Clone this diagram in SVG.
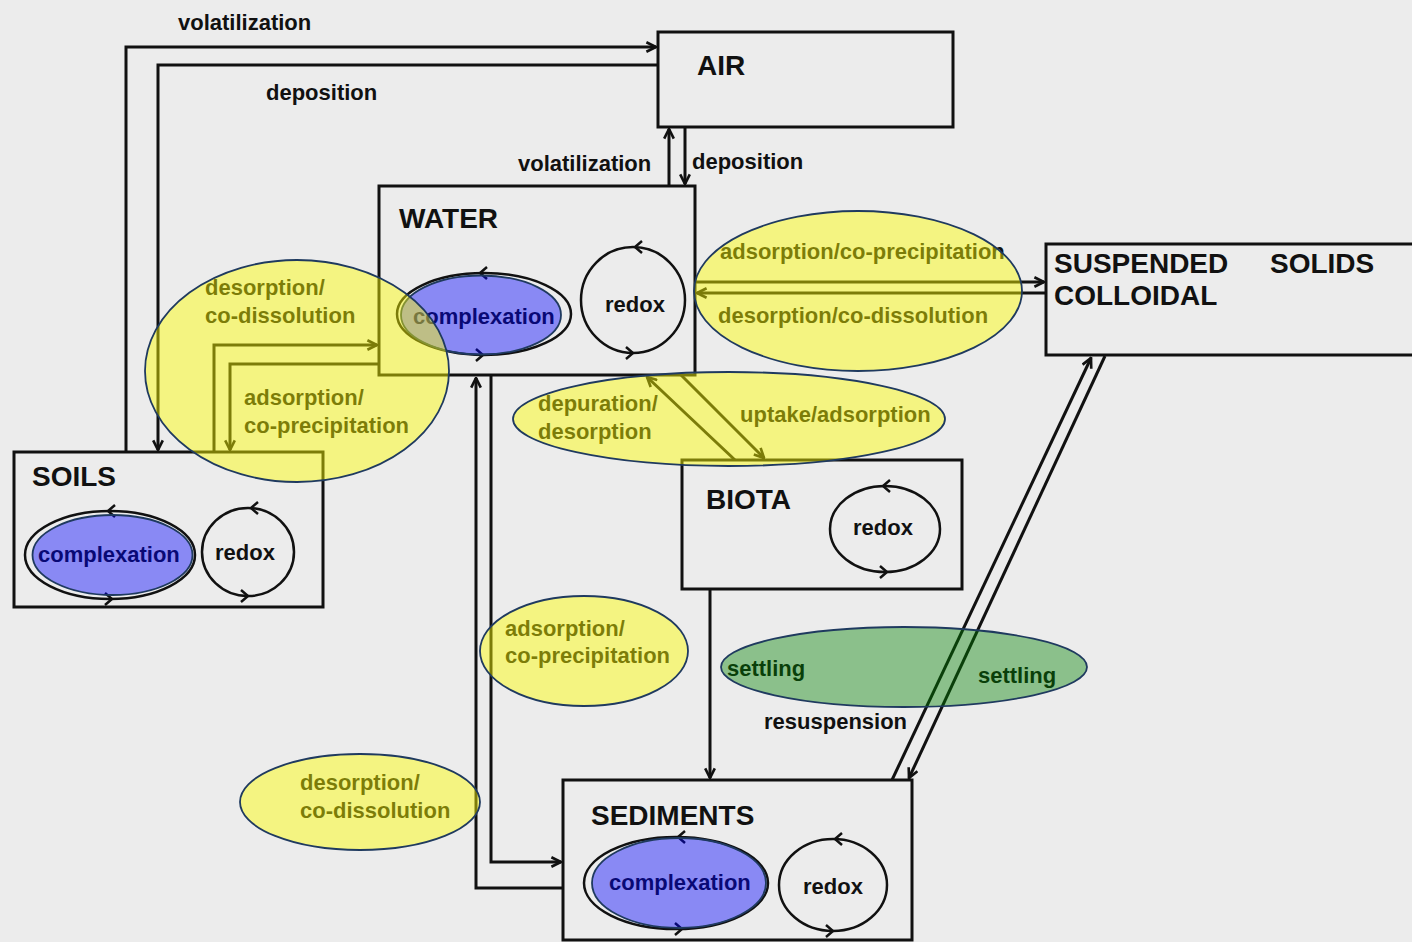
<svg xmlns="http://www.w3.org/2000/svg" width="1412" height="942" viewBox="0 0 1412 942">
<style>
.t{font-family:"Liberation Sans",Arial,Helvetica,sans-serif;font-weight:bold;font-size:22px;fill:#111}
.h{font-size:28px}
.box{fill:none;stroke:#111;stroke-width:3}
.ln{fill:none;stroke:#111;stroke-width:3}
.loop{fill:none;stroke:#111;stroke-width:2.5}
.yl{fill:#ffff00;fill-opacity:0.45;stroke:#1f3a5f;stroke-width:1.8}
.gr{fill:#008000;fill-opacity:0.41;stroke:#1f3a5f;stroke-width:1.8}
.bl{fill:#0000ff;fill-opacity:0.42;stroke:#1f3a5f;stroke-width:1.8}
</style>
<defs>
<marker id="a" viewBox="0 0 10 10" refX="9" refY="5" markerWidth="12" markerHeight="12" markerUnits="userSpaceOnUse" orient="auto">
<path d="M1,1 L9,5 L1,9" fill="none" stroke="#111" stroke-width="2.2"/>
</marker>
</defs>
<rect x="0" y="0" width="1412" height="942" fill="#ececec"/>

<g id="connectors">
<path class="ln" d="M126,452 V47 H656" marker-end="url(#a)"/>
<path class="ln" d="M658,65 H158 V450" marker-end="url(#a)"/>
<path class="ln" d="M669,186 V129" marker-end="url(#a)"/>
<path class="ln" d="M685,127 V184" marker-end="url(#a)"/>
<path class="ln" d="M695,282 H1044" marker-end="url(#a)"/>
<path class="ln" d="M1046,293 H697" marker-end="url(#a)"/>
<path class="ln" d="M214,452 V345 H377" marker-end="url(#a)"/>
<path class="ln" d="M379,364 H230 V450" marker-end="url(#a)"/>
<path class="ln" d="M735,460 L647,377" marker-end="url(#a)"/>
<path class="ln" d="M681,375 L764,458" marker-end="url(#a)"/>
<path class="ln" d="M563,888 H476 V378" marker-end="url(#a)"/>
<path class="ln" d="M491,375 V862 H561" marker-end="url(#a)"/>
<path class="ln" d="M710,589 V778" marker-end="url(#a)"/>
<path class="ln" d="M892,780 L1091,358" marker-end="url(#a)"/>
<path class="ln" d="M1105,356 L909,778" marker-end="url(#a)"/>
<text class="t" x="178" y="30">volatilization</text>
<text class="t" x="266" y="100">deposition</text>
<text class="t" x="518" y="171">volatilization</text>
<text class="t" x="692" y="169">deposition</text>
<text class="t" x="720" y="259">adsorption/co-precipitation</text>
<text class="t" x="718" y="323">desorption/co-dissolution</text>
<text class="t" x="205" y="295">desorption/</text>
<text class="t" x="205" y="323">co-dissolution</text>
<text class="t" x="244" y="405">adsorption/</text>
<text class="t" x="244" y="433">co-precipitation</text>
<text class="t" x="538" y="411">depuration/</text>
<text class="t" x="538" y="439">desorption</text>
<text class="t" x="740" y="422">uptake/adsorption</text>
<text class="t" x="505" y="636">adsorption/</text>
<text class="t" x="505" y="663">co-precipitation</text>
<text class="t" x="727" y="676">settling</text>
<text class="t" x="978" y="683">settling</text>
<text class="t" x="764" y="729">resuspension</text>
<text class="t" x="300" y="790">desorption/</text>
<text class="t" x="300" y="818">co-dissolution</text>
</g>

<g id="air">
<rect class="box" x="658" y="32" width="295" height="95"/>
<text class="t h" x="697" y="75">AIR</text>
</g>

<g id="water">
<rect class="box" x="379" y="186" width="316" height="189"/>
<text class="t h" x="399" y="228">WATER</text>
<ellipse class="loop" cx="484" cy="314" rx="87" ry="41"/>
<path class="loop" d="M487,267 L480,273 L487,279"/>
<path class="loop" d="M476,349 L483,355 L476,361"/>
<ellipse class="loop" cx="633" cy="300" rx="52" ry="53"/>
<path class="loop" d="M642,241 L635,247 L642,253"/>
<path class="loop" d="M626,347 L633,353 L626,359"/>
<text class="t" x="413" y="324">complexation</text>
<text class="t" x="605" y="312">redox</text>
</g>

<g id="suspended">
<rect class="box" x="1046" y="244" width="380" height="111"/>
<text class="t h" x="1054" y="273">SUSPENDED<tspan x="1270">SOLIDS</tspan></text>
<text class="t h" x="1054" y="305">COLLOIDAL</text>
</g>

<g id="soils">
<rect class="box" x="14" y="452" width="309" height="155"/>
<text class="t h" x="32" y="486">SOILS</text>
<ellipse class="loop" cx="110" cy="555" rx="85" ry="44"/>
<path class="loop" d="M115,505 L108,511 L115,517"/>
<path class="loop" d="M105,593 L112,599 L105,605"/>
<ellipse class="loop" cx="248" cy="552" rx="46" ry="44"/>
<path class="loop" d="M258,502 L251,508 L258,514"/>
<path class="loop" d="M241,590 L248,596 L241,602"/>
<text class="t" x="38" y="562">complexation</text>
<text class="t" x="215" y="560">redox</text>
</g>

<g id="biota">
<rect class="box" x="682" y="460" width="280" height="129"/>
<text class="t h" x="706" y="509">BIOTA</text>
<ellipse class="loop" cx="885" cy="529" rx="55" ry="43"/>
<path class="loop" d="M890,480 L883,486 L890,492"/>
<path class="loop" d="M880,566 L887,572 L880,578"/>
<text class="t" x="853" y="535">redox</text>
</g>

<g id="sediments">
<rect class="box" x="563" y="780" width="349" height="160"/>
<text class="t h" x="591" y="825">SEDIMENTS</text>
<ellipse class="loop" cx="676" cy="883" rx="92" ry="46"/>
<path class="loop" d="M685,831 L678,837 L685,843"/>
<path class="loop" d="M675,923 L682,929 L675,935"/>
<ellipse class="loop" cx="833" cy="885" rx="54" ry="46"/>
<path class="loop" d="M842,833 L835,839 L842,845"/>
<path class="loop" d="M826,925 L833,931 L826,937"/>
<text class="t" x="609" y="890">complexation</text>
<text class="t" x="803" y="894">redox</text>
</g>

<g id="highlights">
<ellipse class="bl" cx="481" cy="315" rx="80" ry="39.5"/>
<ellipse class="bl" cx="112.5" cy="555" rx="80" ry="40"/>
<ellipse class="bl" cx="679" cy="883" rx="87" ry="45"/>
<ellipse class="yl" cx="297" cy="371" rx="152" ry="111"/>
<ellipse class="yl" cx="858" cy="291" rx="164" ry="80"/>
<ellipse class="yl" cx="729" cy="419" rx="216" ry="47"/>
<ellipse class="yl" cx="584" cy="651" rx="104" ry="55"/>
<ellipse class="yl" cx="360" cy="802" rx="120" ry="48"/>
<ellipse class="gr" cx="904" cy="667" rx="183" ry="40"/>
</g>
</svg>
